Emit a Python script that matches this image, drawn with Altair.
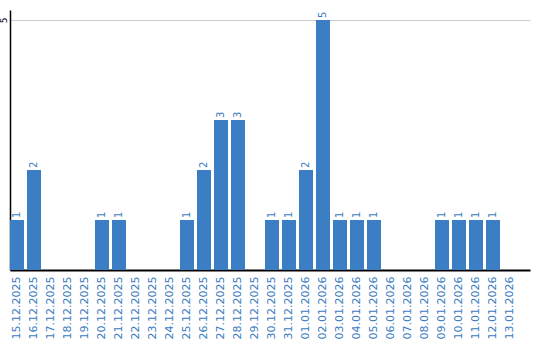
import altair as alt
import pandas as pd

dates = ["15.12.2025", "16.12.2025", "17.12.2025", "18.12.2025", "19.12.2025",
         "20.12.2025", "21.12.2025", "22.12.2025", "23.12.2025", "24.12.2025",
         "25.12.2025", "26.12.2025", "27.12.2025", "28.12.2025", "29.12.2025",
         "30.12.2025", "31.12.2025", "01.01.2026", "02.01.2026", "03.01.2026",
         "04.01.2026", "05.01.2026", "06.01.2026", "07.01.2026", "08.01.2026",
         "09.01.2026", "10.01.2026", "11.01.2026", "12.01.2026", "13.01.2026"]
counts = [1, 2, 0, 0, 0, 1, 1, 0, 0, 0,
          1, 2, 3, 3, 0, 1, 1, 2, 5, 1,
          1, 1, 0, 0, 0, 1, 1, 1, 1, 0]
y_ticks = [5]

df = pd.DataFrame({"date": dates, "count": counts})
color = "#3b7ec4"

x = alt.X("date:N", sort=dates,
          scale=alt.Scale(paddingInner=0.176, paddingOuter=0.382, align=0),
          axis=alt.Axis(title=None, labelAngle=-90, labelAlign="right", labelBaseline="middle",
                        ticks=False, domainColor="#000000", domainWidth=2,
                        labelColor="#3a7bc0", labelFontSize=11, labelFont="DejaVu Sans",
                        labelPadding=6, grid=False))
y = alt.Y("count:Q", scale=alt.Scale(domain=[0, 5.2], nice=False),
          axis=alt.Axis(title=None, values=y_ticks, labelAngle=-90, labelAlign="center",
                        labelBaseline="bottom", ticks=False, domainColor="#000000",
                        domainWidth=1.5, labelColor="#000000", labelFontSize=9,
                        labelFont="DejaVu Sans", labelPadding=2,
                        grid=True, gridColor="#cccccc", gridWidth=1))

bars = alt.Chart(df).mark_bar(color=color).encode(x=x, y=y)
labels = alt.Chart(df).transform_filter("datum.count > 0").mark_text(
    angle=270, align="left", baseline="middle", dx=2, color="#3a7bc0",
    fontSize=10, font="DejaVu Sans"
).encode(x=alt.X("date:N", sort=dates), y="count:Q", text="count:Q")

chart = (bars + labels).properties(
    width=520, height=260,
    autosize=alt.AutoSizeParams(type="none"),
    padding={"left": 10, "top": 10, "right": 10, "bottom": 70},
    background="#ffffff"
).configure_view(stroke=None)

chart.save("out.html", embed_options={"renderer": "svg", "actions": False})
